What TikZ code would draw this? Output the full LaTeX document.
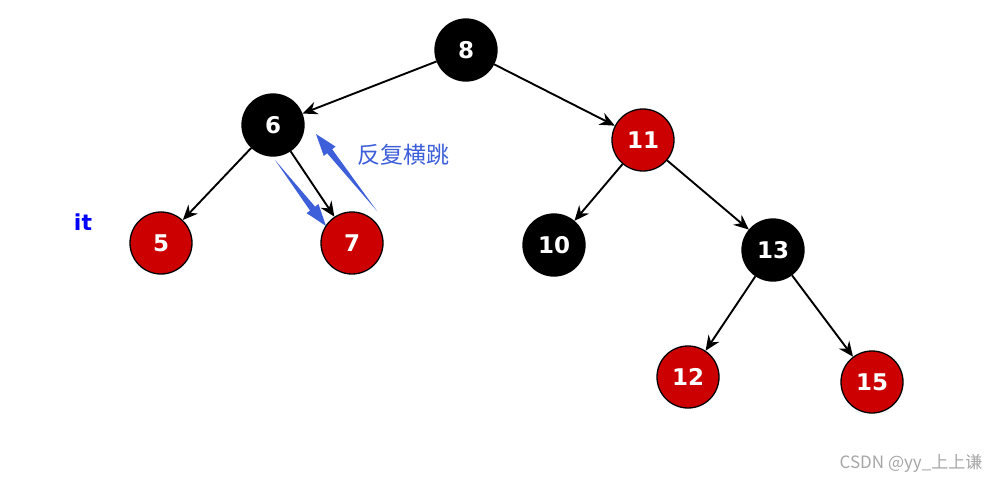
\documentclass[tikz,border=0pt]{standalone}
\usepackage{fontspec}
\newfontfamily\numfont{DejaVu Sans}
\newfontfamily\cjkfont{Noto Sans CJK SC}
\usepackage{tikz}
\usetikzlibrary{arrows.meta, calc}

\definecolor{nodered}{HTML}{CC0000}
\definecolor{jumpblue}{HTML}{3D5FD9}

% tapered blue arrow from #1 to #2
\newcommand{\jumparrow}[2]{%
  \coordinate (hb) at ($(#2)!22pt!(#1)$);
  \fill[jumpblue] (#1) -- ($(hb)!3.2pt!90:(#2)$) -- ($(hb)!7.5pt!90:(#2)$) -- (#2)
    -- ($(hb)!7.5pt!-90:(#2)$) -- ($(hb)!3.2pt!-90:(#2)$) -- cycle;%
}

\begin{document}
\begin{tikzpicture}[
    x=1pt, y=-1pt,
    treenode/.style={circle, draw, line width=1.3pt, minimum size=62pt, inner sep=0pt,
      text=white, font=\numfont\bfseries\fontsize{23}{23}\selectfont},
    rednode/.style={treenode, fill=nodered},
    blacknode/.style={treenode, fill=black},
    edge/.style={-{Stealth[length=15pt, width=13pt, inset=5pt]}, line width=1.9pt}
]
\useasboundingbox (0,0) rectangle (999,482);

\node[blacknode] (n8) at (466,50) {8};
\node[blacknode] (n6) at (273,125) {6};
\node[rednode] (n11) at (643,140) {11};
\node[rednode] (n5) at (161,243) {5};
\node[rednode] (n7) at (352,243) {7};
\node[blacknode] (n10) at (554,245) {10};
\node[blacknode] (n13) at (773,250) {13};
\node[rednode] (n12) at (688,377) {12};
\node[rednode] (n15) at (872,382) {15};

\draw[edge] (n8) -- (n6);
\draw[edge] (n8) -- (n11);
\draw[edge] (n6) -- (n5);
\draw[edge] (n6) -- (n7);
\draw[edge] (n11) -- (n10);
\draw[edge] (n11) -- (n13);
\draw[edge] (n13) -- (n12);
\draw[edge] (n13) -- (n15);

% back and forth
\coordinate (j1s) at (275,160);
\coordinate (j1e) at (326,226);
\coordinate (j2s) at (377,211);
\coordinate (j2e) at (316,134);
\jumparrow{j1s}{j1e}
\jumparrow{j2s}{j2e}
\node[text=jumpblue, font=\cjkfont\fontsize{23}{23}\selectfont] (jump) at (403,155) {反复横跳};

\node[text=blue, font=\numfont\bfseries\fontsize{22}{22}\selectfont] (it) at (83,222) {it};

\node[text=gray!70, font=\cjkfont\fontsize{17}{17}\selectfont] (mark) at (911,463) {CSDN @yy\_上上谦};
\end{tikzpicture}
\end{document}
